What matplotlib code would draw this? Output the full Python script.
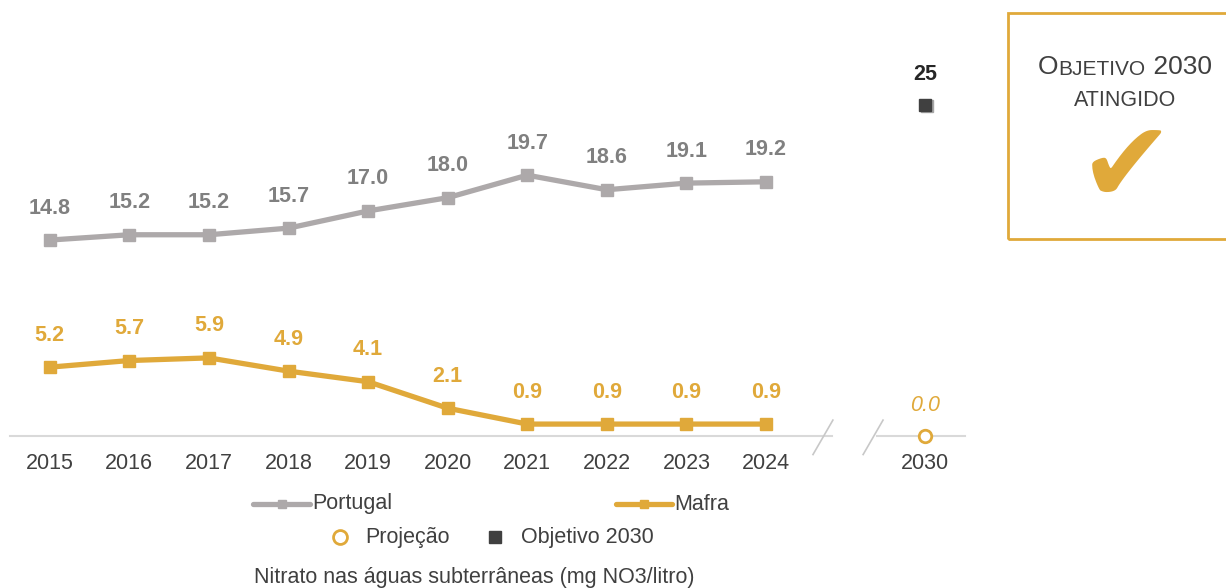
import matplotlib.pyplot as plt
from matplotlib.lines import Line2D
import matplotlib.patches as mpatches

plt.rcParams['font.family'] = ['Liberation Sans', 'DejaVu Sans']

# data
years = ['2015', '2016', '2017', '2018', '2019', '2020', '2021', '2022', '2023', '2024']
portugal = [14.8, 15.2, 15.2, 15.7, 17.0, 18.0, 19.7, 18.6, 19.1, 19.2]
mafra = [5.2, 5.7, 5.9, 4.9, 4.1, 2.1, 0.9, 0.9, 0.9, 0.9]
target_year = '2030'
projection_2030 = 0.0
objective_2030 = 25

GREY = "#ADA9AA"
GREY_TXT = "#808080"
GOLD = "#E0A93A"
DARK = "#404040"
AXIS = "#D9D9D9"
FS = 15.5

W, H = 1226, 588
fig = plt.figure(figsize=(W / 100, H / 100), dpi=100)
ax = fig.add_axes([10 / W, (H - 436) / H, 955 / W, 416 / H])

x = list(range(len(years)))
x_target = len(years) + 1

ax.plot(x, portugal, color=GREY, lw=3.8, marker='s', ms=8, zorder=3)
ax.plot(x, mafra, color=GOLD, lw=3.8, marker='s', ms=8, zorder=3)

for xi, v in zip(x, portugal):
    ax.annotate(f"{v:.1f}", (xi, v), xytext=(0, 23), textcoords='offset points',
                ha='center', va='center', fontsize=FS, fontweight='bold', color=GREY_TXT)
for xi, v in zip(x, mafra):
    ax.annotate(f"{v:.1f}", (xi, v), xytext=(0, 23), textcoords='offset points',
                ha='center', va='center', fontsize=FS, fontweight='bold', color=GOLD)

# 2030 points
ax.plot([x_target], [projection_2030], marker='o', ms=9, mfc='white', mec=GOLD,
        mew=2, ls='none', zorder=4, clip_on=False)
ax.annotate(f"{projection_2030:.1f}", (x_target, projection_2030), xytext=(0, 22),
            textcoords='offset points', ha='center', va='center', fontsize=FS,
            fontstyle='italic', color=GOLD)
ax.plot([x_target + 0.025], [objective_2030 - 0.1], marker='s', ms=8, color='#A6A6A6',
        ls='none', zorder=3)
ax.plot([x_target], [objective_2030], marker='s', ms=8, color=DARK, ls='none', zorder=4)
ax.annotate(f"{objective_2030}", (x_target, objective_2030), xytext=(0, 22),
            textcoords='offset points', ha='center', va='center', fontsize=FS,
            fontweight='bold', color='#262626')

# broken axis line
ax.plot([-0.5, 9.83], [0, 0], color=AXIS, lw=1.5, clip_on=False, zorder=1)
ax.plot([10.39, 11.5], [0, 0], color=AXIS, lw=1.5, clip_on=False, zorder=1)
for bx in (9.59, 10.22):
    ax.plot([bx, bx + 0.25], [-1.4, 1.2], color='#C8C8C8', lw=1.2, clip_on=False)

ax.set_xlim(-0.5, 11.5)
ax.set_ylim(0, 416 / 13.24)
ax.set_xticks(x + [x_target])
ax.set_xticklabels(years + [target_year], fontsize=FS, color=DARK)
ax.tick_params(axis='x', length=0, pad=12)
ax.set_yticks([])
for s in ax.spines.values():
    s.set_visible(False)


# legend, drawn by hand in figure pixels
def fx(px):
    return px / W


def fy(py):
    return 1 - py / H


for x0, x1, c, lab in [(253, 310, GREY, 'Portugal'), (616, 672, GOLD, 'Mafra')]:
    fig.add_artist(Line2D([fx(x0), fx(x1)], [fy(504)] * 2, color=c, lw=3.8,
                          solid_capstyle='round'))
    fig.add_artist(Line2D([fx((x0 + x1) / 2)], [fy(504)], color=c, marker='s', ms=6,
                          ls='none'))
    fig.text(fx(x1 + 2), fy(504), lab, fontsize=FS, color=DARK, va='center')

fig.add_artist(Line2D([fx(340)], [fy(537)], marker='o', ms=10, mfc='white', mec=GOLD,
                      mew=2, ls='none'))
fig.text(fx(365), fy(537), 'Projeção', fontsize=FS, color=DARK, va='center')
fig.add_artist(Line2D([fx(495)], [fy(537)], marker='s', ms=9, color=DARK, ls='none'))
fig.text(fx(521), fy(537), 'Objetivo 2030', fontsize=FS, color=DARK, va='center')

fig.text(fx(474), fy(577), "Nitrato nas águas subterrâneas (mg NO3/litro)",
         ha='center', va='center', fontsize=FS, color=DARK)

# objective box
fig.add_artist(mpatches.Rectangle((fx(1008), fy(239)), 230 / W, 226 / H,
                                  transform=fig.transFigure, fill=False,
                                  edgecolor=GOLD, lw=2))
t1 = fig.text(fx(1038), fy(74), "O", fontsize=19, color=DARK, va='baseline')
a1 = fig.add_artist(plt.Annotation("BJETIVO", xy=(1, 0), xycoords=t1,
                                   fontsize=15, color=DARK, va='bottom'))
fig.add_artist(plt.Annotation(" 2030", xy=(1, 0), xycoords=a1,
                              fontsize=19, color=DARK, va='bottom'))
fig.text(fx(1125), fy(100), "ATINGIDO", fontsize=15.5, color=DARK,
         ha='center', va='center')
fig.text(fx(1127), fy(171), "✔", fontsize=82, color=GOLD,
         ha='center', va='center', family='DejaVu Sans')

fig.savefig('out.png', dpi=100)
